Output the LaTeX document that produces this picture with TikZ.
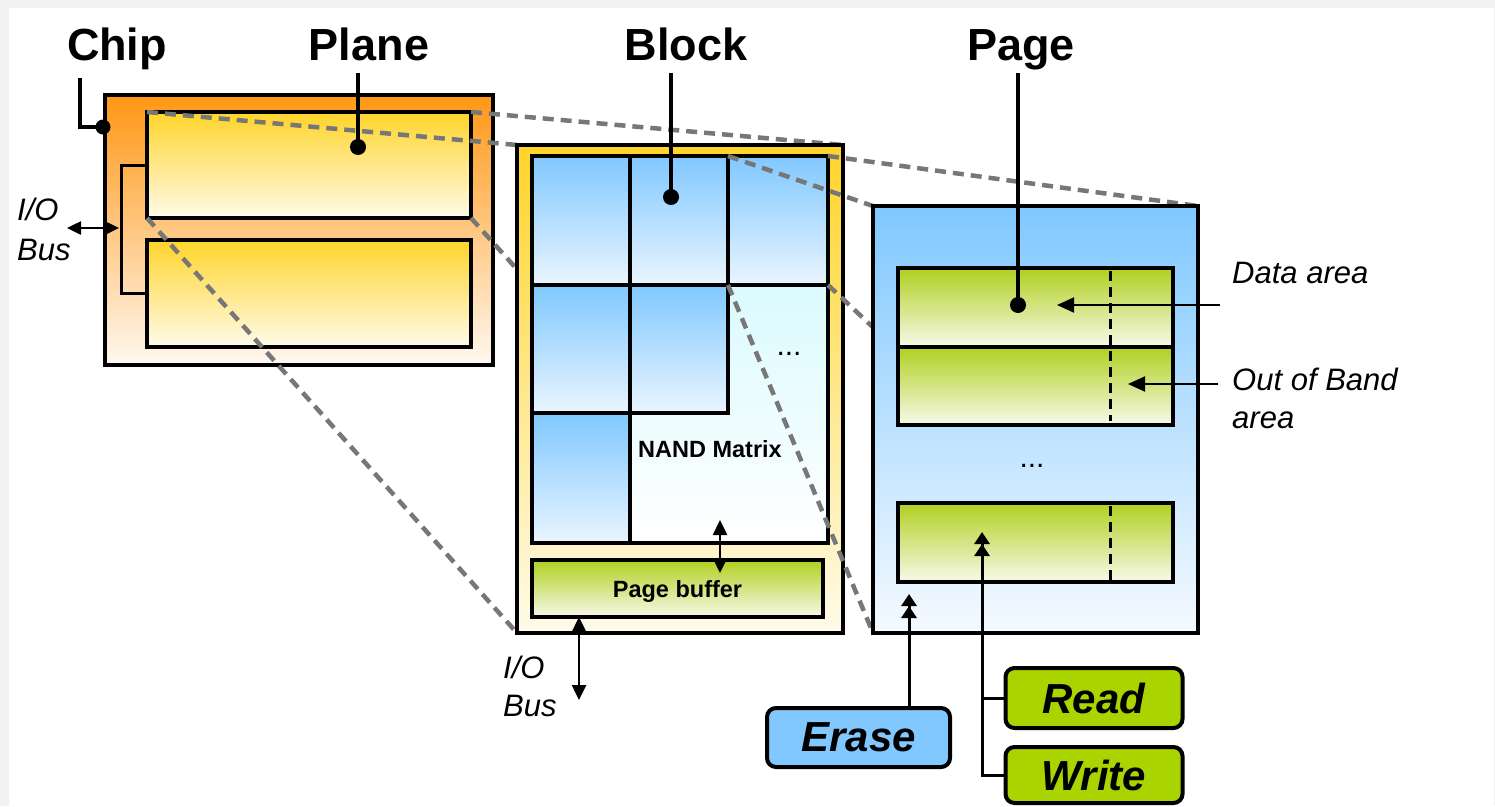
\documentclass[tikz,border=0pt]{standalone}
\usepackage{fontspec}
\setmainfont{Liberation Sans}
\usetikzlibrary{arrows.meta,calc}

\definecolor{bgGrey}{HTML}{F2F2F2}
\definecolor{chipTop}{HTML}{FF9714}
\definecolor{chipBot}{HTML}{FFF8F0}
\definecolor{yelTop}{HTML}{FFD42A}
\definecolor{yelBot}{HTML}{FFFBEA}
\definecolor{bluTop}{HTML}{80C8FF}
\definecolor{bluBot}{HTML}{EAF5FF}
\definecolor{pageBot}{HTML}{F5FAFF}
\definecolor{cyanTop}{HTML}{C8F8FF}
\definecolor{grnTop}{HTML}{B0D020}
\definecolor{grnBot}{HTML}{F8F9EA}
\definecolor{opBlue}{HTML}{80C8FF}
\definecolor{opGreen}{HTML}{AAD400}
\definecolor{projGrey}{HTML}{777777}

\tikzset{
  sized/.style 2 args={minimum width=#1, minimum height=#2, inner sep=0pt, outer sep=0pt},
  box/.style={draw, line width=4pt},
  chipbox/.style={box, top color=chipTop, bottom color=chipBot},
  yelbox/.style={box, top color=yelTop, bottom color=yelBot},
  blubox/.style={box, top color=bluTop, bottom color=bluBot},
  grnbox/.style={box, top color=grnTop, bottom color=grnBot},
  opbox/.style={draw, line width=4pt, rounded corners=9pt, inner sep=0pt,
    font=\fontsize{42}{50}\selectfont\bfseries\itshape},
  title/.style={anchor=base, inner sep=0pt, font=\fontsize{45}{54}\selectfont\bfseries},
  note/.style={anchor=base west, inner sep=0pt, font=\fontsize{31}{38}\selectfont\itshape},
  small/.style={inner sep=0pt, font=\fontsize{23.5}{28}\selectfont\bfseries},
  dots/.style={inner sep=0pt, font=\fontsize{30}{36}\selectfont},
  projdash/.style={draw=projGrey, line width=4.5pt, dash pattern=on 11pt off 7pt},
  sepdash/.style={line width=3pt, dash pattern=on 10pt off 6pt},
  pointer/.style={line width=3.5pt},
  dblhead/.style={line width=3pt, -{Triangle[length=12pt,width=15pt]Triangle[length=12pt,width=15pt]}},
  bothheads/.style={line width=2.5pt, {Triangle[length=15pt,width=14pt]}-{Triangle[length=15pt,width=14pt]}},
  onehead/.style={line width=2pt, -{Triangle[length=17pt,width=15pt]}},
}

\begin{document}
\begin{tikzpicture}[x=1pt, y=-1pt]
  % canvas
  \useasboundingbox (0,0) rectangle (1495,806);
  \fill[bgGrey] (0,0) rectangle (1495,806);
  \fill[white] (9,8) rectangle (1494,806);

  % ---------- chip with its two planes ----------
  \node[chipbox, sized={388pt}{270pt}] (chip) at (299,230) {};
  \node[yelbox, sized={324pt}{106pt}] (plane1) at (309,165) {};
  \node[yelbox, sized={324pt}{107pt}] (plane2) at (309,293.5) {};
  \draw[line width=3pt] (plane1.west) -- ++(-26,0) |- (plane2.west);

  % projection plane -> block
  \draw[projdash] (plane1.north west) -- (517,145) coordinate (blkNW);
  \draw[projdash] (plane1.north east) -- (843,145) coordinate (blkNE);
  \draw[projdash] (plane1.south west) -- (517,633) coordinate (blkSW);
  \draw[projdash] (plane1.south east) -- (843,633) coordinate (blkSE);

  % ---------- block ----------
  \node[yelbox, sized={326pt}{488pt}] (block) at (680,389) {};
  \node[box, top color=cyanTop, bottom color=white, sized={296pt}{387pt}] (nandm) at (680,349.5) {};
  \node[blubox, sized={98pt}{129pt}]  (cell11) at (581,220.5) {};
  \node[blubox, sized={98pt}{129pt}]  (cell12) at (679,220.5) {};
  \node[blubox, sized={100pt}{129pt}] (cell13) at (778,220.5) {};
  \node[blubox, sized={98pt}{128pt}]  (cell21) at (581,349) {};
  \node[blubox, sized={98pt}{128pt}]  (cell22) at (679,349) {};
  \node[blubox, sized={98pt}{130pt}]  (cell31) at (581,478) {};
  \node[dots] (mdots) at (789,354) {...};
  \node[small, anchor=base] (nandlbl) at (710,457) {NAND Matrix};
  \node[grnbox, sized={291pt}{57pt}, small, text depth=0pt] (pbuf) at (677.5,588.5) {Page buffer};

  \coordinate (mxTop) at (720,520);
  \coordinate (mxBot) at (720,573);
  \draw[bothheads] (mxTop) -- (mxBot);

  % block I/O bus
  \coordinate (bioBot) at (579,700);
  \draw[bothheads] (pbuf.south -| bioBot) -- (bioBot);
  \node[note] (bio1) at (503,678) {I/O};
  \node[note] (bio2) at (503,716) {Bus};

  % projection block cell -> page
  \draw[projdash] (cell13.north west) -- (873,206);
  \draw[projdash] (cell13.north east) -- (1198,206);
  \draw[projdash] (cell13.south west) -- (873,633);
  \draw[projdash] (cell13.south east) -- (1198,633);

  % ---------- page ----------
  \node[box, top color=bluTop, bottom color=pageBot, sized={325pt}{427pt}] (page) at (1035.5,419.5) {};
  \node[grnbox, sized={275pt}{79pt}] (row1) at (1035.5,307.5) {};
  \node[grnbox, sized={275pt}{78pt}] (row2) at (1035.5,386) {};
  \node[grnbox, sized={275pt}{79pt}] (row3) at (1035.5,542.5) {};
  \draw[sepdash] (1110,271) -- (1110,421);
  \draw[sepdash] (1110,506) -- (1110,580);
  \node[dots] (pdots) at (1032,466) {...};

  % ---------- titles and pointers ----------
  \node[title] (chiplbl)  at (117,60)  {Chip};
  \node[title] (planelbl) at (369,60)  {Plane};
  \node[title] (blocklbl) at (686,60)  {Block};
  \node[title] (pagelbl)  at (1021,60) {Page};

  \coordinate (chipTip) at (80,78);
  \coordinate (chipDot) at (103,127);
  \draw[pointer] (chipTip) |- (chipDot);
  \fill (chipDot) circle (7.5);

  \coordinate (planeTip) at (358,73);
  \coordinate (planeDot) at (358,147);
  \draw[pointer] (planeTip) -- (planeDot);
  \fill (planeDot) circle (8);

  \coordinate (blockTip) at (671,73);
  \coordinate (blockDot) at (671,197);
  \draw[pointer] (blockTip) -- (blockDot);
  \fill (blockDot) circle (8);

  \coordinate (pageTip) at (1018,73);
  \coordinate (pageDot) at (1018,305);
  \draw[pointer] (pageTip) -- (pageDot);
  \fill (pageDot) circle (8);

  % chip I/O bus
  \coordinate (cioL) at (67,228);
  \coordinate (cioR) at (119,228);
  \draw[line width=2.5pt, {Triangle[length=14pt,width=13pt]}-{Triangle[length=14pt,width=13pt]}] (cioL) -- (cioR);
  \node[note] (cio1) at (17,220) {I/O};
  \node[note] (cio2) at (17,260) {Bus};

  % page area labels
  \node[note] (datalbl) at (1232,283) {Data area};
  \node[note] (ooblbl1) at (1232,390) {Out of Band};
  \node[note] (ooblbl2) at (1232,428) {area};
  \coordinate (dataFrom) at (1220,305);
  \coordinate (dataTo) at (1057,305);
  \draw[onehead] (dataFrom) -- (dataTo);
  \coordinate (oobFrom) at (1218,384);
  \coordinate (oobTo) at (1128,384);
  \draw[onehead] (oobFrom) -- (oobTo);

  % ---------- operations ----------
  \node[opbox, fill=opBlue, minimum width=183pt, minimum height=59pt] (erase) at (858.5,737.5) {Erase};
  \node[opbox, fill=opGreen, minimum width=177pt, minimum height=60pt] (read) at (1094,698) {Read};
  \node[opbox, fill=opGreen, minimum width=177pt, minimum height=56pt] (write) at (1094,775) {Write};

  \coordinate (eraseTip) at (909,594);
  \draw[dblhead] (erase.north -| eraseTip) -- (eraseTip);
  \coordinate (rwTip) at (982,532);
  \draw[dblhead] (write.west) -| (rwTip);
  \draw[line width=3pt] (read.west) -- (read.west -| rwTip);
\end{tikzpicture}
\end{document}
